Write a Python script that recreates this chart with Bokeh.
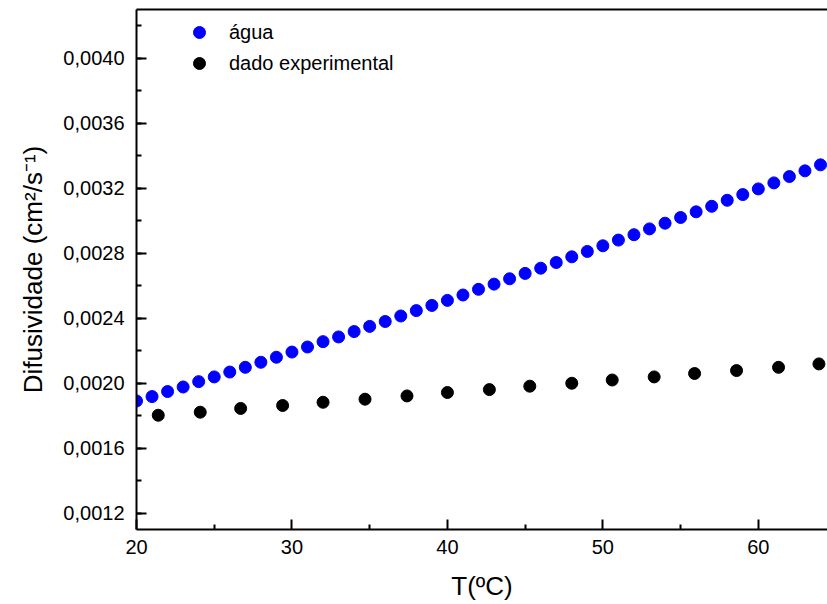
from bokeh.plotting import figure
from bokeh.models import (Range1d, FixedTicker, CustomJSTickFormatter, LinearAxis,
                          Legend, LegendItem, ColumnDataSource)
from bokeh.embed import file_html
from bokeh.resources import INLINE

# ---- data ----
agua_T = [20, 21, 22, 23, 24, 25, 26, 27, 28, 29, 30, 31, 32, 33, 34, 35, 36, 37, 38, 39,
          40, 41, 42, 43, 44, 45, 46, 47, 48, 49, 50, 51, 52, 53, 54, 55, 56, 57, 58, 59,
          60, 61, 62, 63, 64]
agua_D = [0.001891, 0.001918, 0.001949, 0.001977, 0.002010, 0.002039, 0.002069, 0.002098,
          0.002129, 0.002160, 0.002192, 0.002223, 0.002256, 0.002285, 0.002318, 0.002350,
          0.002380, 0.002414, 0.002447, 0.002479, 0.002510, 0.002543, 0.002578, 0.002610,
          0.002643, 0.002676, 0.002708, 0.002743, 0.002778, 0.002811, 0.002846, 0.002881,
          0.002914, 0.002950, 0.002985, 0.003020, 0.003055, 0.003089, 0.003126, 0.003161,
          0.003196, 0.003233, 0.003272, 0.003307, 0.003344]

exp_T = [21.4, 24.1, 26.7, 29.4, 32.0, 34.7, 37.4, 40.0, 42.7, 45.3, 48.0, 50.6,
         53.3, 55.9, 58.6, 61.3, 63.9]
exp_D = [0.001803, 0.001822, 0.001845, 0.001863, 0.001883, 0.001902, 0.001922, 0.001943,
         0.001961, 0.001982, 0.002000, 0.002020, 0.002039, 0.002060, 0.002078, 0.002098,
         0.002119]

series_names = ["água", "dado experimental"]
x_major = [20, 30, 40, 50, 60]
x_minor = [25, 35, 45, 55, 65]
y_major = [0.0012, 0.0016, 0.0020, 0.0024, 0.0028, 0.0032, 0.0036, 0.0040]
y_minor = [0.0012, 0.0014, 0.0016, 0.0018, 0.0020, 0.0022, 0.0024, 0.0026, 0.0028,
           0.0030, 0.0032, 0.0034, 0.0036, 0.0038, 0.0040, 0.0042]

FONT = "Liberation Sans"

p = figure(width=827, height=604, output_backend="svg", toolbar_location=None,
           x_range=Range1d(20, 64.45), y_range=Range1d(0.0011, 0.0043),
           min_border_left=136, min_border_right=0, min_border_top=9, min_border_bottom=75)
p.outline_line_color = None
p.xgrid.visible = False
p.ygrid.visible = False
p.background_fill_color = "white"
p.border_fill_color = "white"

src_a = ColumnDataSource(dict(x=agua_T, y=agua_D))
src_e = ColumnDataSource(dict(x=exp_T, y=exp_D))
r_a = p.scatter("x", "y", source=src_a, size=12, fill_color="#0000FF", line_color="#0000FF",
                line_width=1)
r_e = p.scatter("x", "y", source=src_e, size=12, fill_color="#000000", line_color="#000000",
                line_width=1)

def style_axis(ax, label, label_size):
    ax.axis_line_width = 2
    ax.axis_line_color = "black"
    ax.major_tick_line_width = 2
    ax.minor_tick_line_width = 2
    ax.major_tick_in = 10
    ax.major_tick_out = 0
    ax.minor_tick_in = 5
    ax.minor_tick_out = 0
    ax.major_label_text_font = FONT
    ax.major_label_text_font_size = "20px"
    ax.major_label_text_color = "black"
    ax.axis_label = label
    ax.axis_label_text_font = FONT
    ax.axis_label_text_font_size = label_size
    ax.axis_label_text_font_style = "normal"
    ax.axis_label_text_color = "black"

xa = p.xaxis[0]
style_axis(xa, "T(ºC)", "26px")
xa.ticker = FixedTicker(ticks=x_major, minor_ticks=x_minor)
xa.major_label_standoff = 10
xa.axis_label_standoff = 14

ya = p.yaxis[0]
style_axis(ya, "Difusividade (cm²/s⁻¹)", "26px")
ya.ticker = FixedTicker(ticks=y_major, minor_ticks=y_minor)
ya.formatter = CustomJSTickFormatter(code="return tick.toFixed(4).replace('.', ',');")
ya.major_label_standoff = 12
ya.axis_label_standoff = 12

# top frame line (no ticks, no labels)
top = LinearAxis(ticker=FixedTicker(ticks=[], minor_ticks=[]))
top.axis_line_width = 2
top.axis_line_color = "black"
top.major_tick_line_color = None
top.minor_tick_line_color = None
top.major_label_standoff = 0
p.add_layout(top, "above")

legend = Legend(items=[LegendItem(label=series_names[0], renderers=[r_a]),
                       LegendItem(label=series_names[1], renderers=[r_e])],
                location=(48, 451), orientation="vertical")
legend.border_line_color = None
legend.background_fill_alpha = 0
legend.padding = 0
legend.margin = 0
legend.spacing = 1
legend.glyph_width = 30
legend.glyph_height = 30
legend.label_height = 30
legend.label_standoff = 15
legend.label_text_font = FONT
legend.label_text_font_size = "20px"
legend.label_text_color = "black"
p.add_layout(legend, "center")

open("out.html", "w").write(file_html(p, INLINE))
